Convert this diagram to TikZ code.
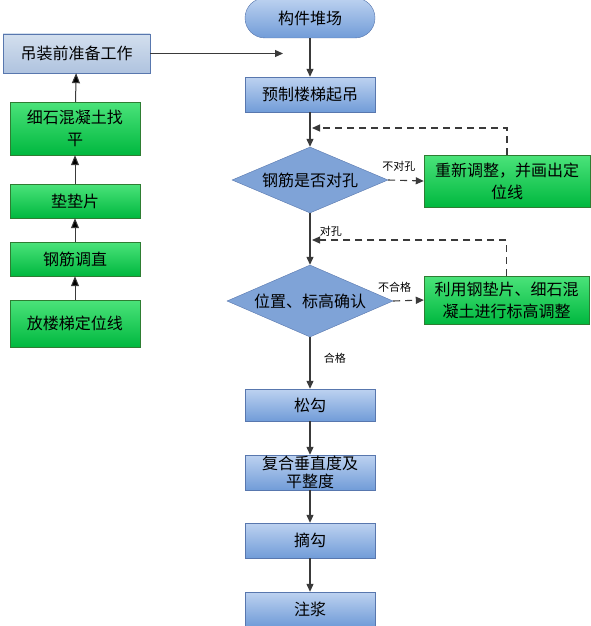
\documentclass[tikz,border=0pt]{standalone}
\usepackage{fontspec}
\setmainfont{Noto Sans CJK SC}
\usepackage{tikz}
\usetikzlibrary{shapes.geometric,arrows.meta}
\definecolor{blueline}{HTML}{5877AE}
\definecolor{bluetop}{HTML}{BDD2F0}
\definecolor{bluebot}{HTML}{719CD8}
\definecolor{paletop}{HTML}{D3DFEE}
\definecolor{palebot}{HTML}{AFC3DF}
\definecolor{greenline}{HTML}{2E7D32}
\definecolor{greentop}{HTML}{4BE37A}
\definecolor{greenbot}{HTML}{00B83F}
\definecolor{diamondfill}{HTML}{7FA3D7}
\definecolor{arrowgrey}{HTML}{3A3A3A}

\begin{document}
\begin{tikzpicture}[x=1pt,y=-1pt,
  bluebox/.style={rectangle,draw=blueline,top color=bluetop,bottom color=bluebot,
    minimum width=130pt,minimum height=35pt,inner sep=1pt,align=center,
    font=\fontsize{16}{18}\selectfont},
  palebox/.style={bluebox,top color=paletop,bottom color=palebot,minimum width=147pt,minimum height=39pt},
  greenbox/.style={rectangle,draw=greenline,top color=greentop,bottom color=greenbot,
    minimum width=130pt,minimum height=34pt,inner sep=1pt,align=center,
    font=\fontsize{16}{22}\selectfont},
  decision/.style={diamond,draw=blueline,fill=diamondfill,inner sep=0pt,aspect=2.35,
    font=\fontsize{16}{18}\selectfont},
  flow/.style={draw=arrowgrey,line width=1.1pt,-{Triangle[length=8pt,width=7pt]}},
  upflow/.style={draw=arrowgrey,line width=1pt,-{Triangle[length=10pt,width=8pt,fill=black]}},
  back/.style={draw=arrowgrey,line width=1.1pt,dash pattern=on 7pt off 5pt,
    -{Triangle[length=8pt,width=7pt]}},
  tag/.style={font=\fontsize{11}{13}\selectfont}]
\useasboundingbox[fill=white] (0,0) rectangle (591,626);

% main column
\node[bluebox,rounded corners=20pt,minimum height=40pt] (store) at (310,18) {构件堆场};
\node[bluebox] (lift) at (310,94.5) {预制楼梯起吊};
\node[decision,minimum width=156pt,minimum height=66pt] (check) at (310,180) {钢筋是否对孔};
\node[decision,minimum width=166pt,minimum height=72pt] (level) at (310,301) {位置、标高确认};
\node[bluebox,minimum height=32pt] (loosen) at (310,405) {松勾};
\node[bluebox] (verify) at (310,472.5) {复合垂直度及\\平整度};
\node[bluebox] (unhook) at (310,540.5) {摘勾};
\node[bluebox,minimum height=34pt] (grout) at (310,609) {注浆};

% correction boxes
\node[greenbox,minimum width=166pt,minimum height=52pt] (fix) at (507,181) {重新调整，并画出定\\位线};
\node[greenbox,minimum width=165pt,minimum height=48pt] (adjust) at (506.5,300) {利用钢垫片、细石混\\凝土进行标高调整};

% left column
\node[palebox] (prep) at (76.5,53.5) {吊装前准备工作};
\node[greenbox,minimum height=53pt] (screed) at (75,128.5) {细石混凝土找\\平};
\node[greenbox] (shim) at (75,201) {垫垫片};
\node[greenbox] (straighten) at (75,259) {钢筋调直};
\node[greenbox,minimum height=47pt] (mark) at (75,323.5) {放楼梯定位线};

\coordinate (pend) at (283,53.5);
\coordinate (fb1) at (312,128);
\coordinate (fb2) at (312,240);

\draw[flow] (store) -- (lift);
\draw[flow] (lift) -- (check);
\draw[flow] (check) -- node[tag,pos=0.35,right=6pt] {对孔} (level);
\draw[flow] (level) -- node[tag,pos=0.4,right=10pt] {合格} (loosen);
\draw[flow] (loosen) -- (verify);
\draw[flow] (verify) -- (unhook);
\draw[flow] (unhook) -- (grout);

\draw[back] (check.east) -- node[tag,above=5pt,pos=0.3] {不对孔} (fix.west);
\draw[back] (level.east) -- node[tag,above=5pt,pos=0.05] {不合格} (adjust.west);
\draw[back] (fix.north) |- (fb1);
\draw[back] (adjust.north) |- (fb2);

\draw[upflow] (mark) -- (straighten);
\draw[upflow] (straighten) -- (shim);
\draw[upflow] (shim) -- (screed);
\draw[upflow] (screed) -- (prep);
\draw[flow] (prep.east) -- (pend);
\end{tikzpicture}
\end{document}
